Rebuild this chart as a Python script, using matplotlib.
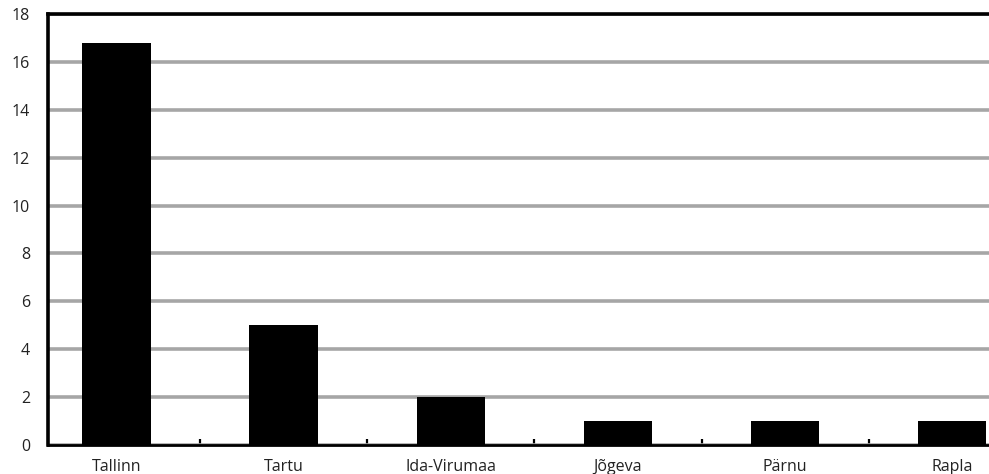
import numpy as np
import matplotlib.pyplot as plt

# counties and values
counties = ['Tallinn', 'Tartu', 'Ida-Virumaa', 'Jõgeva', 'Pärnu', 'Rapla']
values = [16.8, 5, 2, 1, 1, 1]
y_ticks = [0, 2, 4, 6, 8, 10, 12, 14, 16, 18]

W, H = 989, 474
fig = plt.figure(figsize=(W / 100, H / 100), dpi=100)
plt.rcParams['font.family'] = ['Open Sans', 'DejaVu Sans']

# axes: left spine at x=48, baseline at y=445, top at y=14, right runs past the image edge
ax = fig.add_axes([48 / W, (H - 445) / H, 1 - 48 / W, (445 - 14) / H])

x = np.arange(len(counties))
ax.bar(x, values, width=0.41, color='black', zorder=3)

ax.set_xlim(-0.41, 5.22)
ax.set_ylim(0, 18)

ax.set_yticks(y_ticks)
ax.set_yticklabels([str(v) for v in y_ticks], fontsize=11.5, color='#222222')
ax.tick_params(axis='y', length=0, pad=13)

# category boundaries get the small upward ticks, labels sit in the middle
ax.set_xticks(x[:-1] + 0.5)
ax.set_xticklabels([])
ax.tick_params(axis='x', direction='in', length=4, width=1.6, color='black')
for i, name in enumerate(counties):
    ax.text(i, -0.6, name, ha='center', va='top', fontsize=11.5, color='#222222',
            transform=ax.transData, clip_on=False)

ax.yaxis.grid(True, color='#a6a6a6', linewidth=2.6, zorder=0)
ax.set_axisbelow(True)

ax.spines['right'].set_visible(False)
ax.spines['top'].set_linewidth(2.6)
ax.spines['left'].set_linewidth(2.6)
ax.spines['bottom'].set_linewidth(2)
for s in ax.spines.values():
    s.set_color('black')

fig.savefig('out.png', dpi=100)
